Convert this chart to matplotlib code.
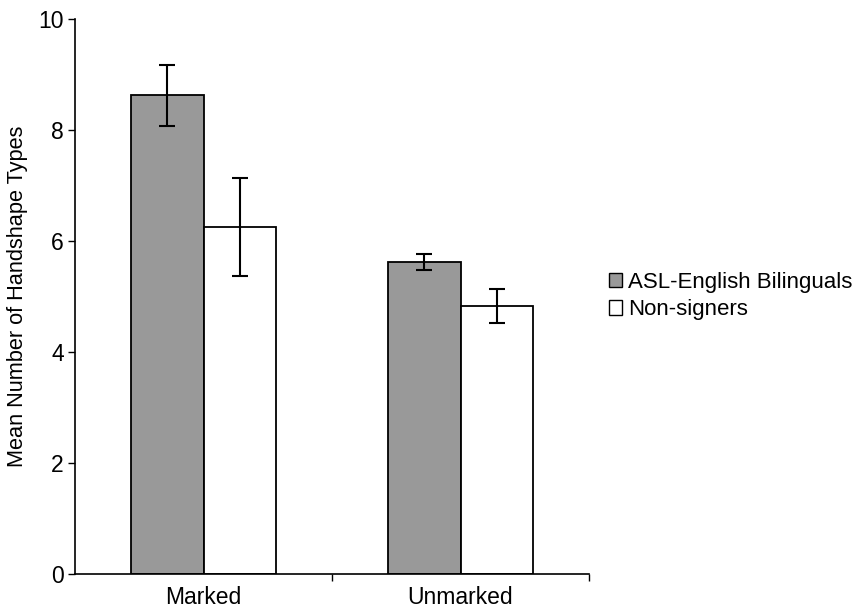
import matplotlib
matplotlib.use("Agg")
import matplotlib.pyplot as plt
from matplotlib.patches import Patch
import numpy as np

categories = ["Marked", "Unmarked"]
series_names = ["ASL-English Bilinguals", "Non-signers"]
asl_means = [8.63, 5.62]
asl_err = [0.55, 0.14]
non_means = [6.25, 4.83]
non_err = [0.88, 0.31]
yticks = [0, 2, 4, 6, 8, 10]

plt.rcParams['font.family'] = ['Liberation Sans', 'DejaVu Sans']

fig = plt.figure(figsize=(8.58, 6.10), dpi=100)
ax = fig.add_axes([75/858, 1-574/610, (589-75)/858, (574-19)/610])

x = np.arange(len(categories))
w = 0.284
ekw = dict(elinewidth=1.5, capthick=1.5, ecolor='black')
ax.bar(x - w/2, asl_means, w, yerr=asl_err, capsize=6, color='#999999',
       edgecolor='black', linewidth=1.3, error_kw=ekw)
ax.bar(x + w/2, non_means, w, yerr=non_err, capsize=6, color='white',
       edgecolor='black', linewidth=1.3, error_kw=ekw)

ax.set_xlim(-0.5, 1.5)
ax.set_ylim(0, 10)
ax.set_yticks(yticks)
ax.set_yticklabels([str(t) for t in yticks], fontsize=16.5)
ax.set_xticks([0.5, 1.5])
ax.set_xticklabels([])
ax.tick_params(axis='x', length=5, width=1, direction='out')
ax.tick_params(axis='y', length=5, width=1, direction='out', pad=3)
for i, c in enumerate(categories):
    ax.text(i, -0.22, c, ha='center', va='top', fontsize=16.5,
            transform=ax.transData)
ax.set_ylabel("Mean Number of Handshape Types", fontsize=15.7)
ax.yaxis.set_label_coords(-47/514, 0.5)
for s in ['top', 'right']:
    ax.spines[s].set_visible(False)
ax.spines['left'].set_linewidth(1.2)
ax.spines['bottom'].set_linewidth(1.2)

handles = [Patch(facecolor='#999999', edgecolor='black', linewidth=1),
           Patch(facecolor='white', edgecolor='black', linewidth=1)]
fig.legend(handles, series_names, loc='center left',
           bbox_to_anchor=(609/858, 1-296/610), frameon=False, fontsize=16,
           handlelength=0.6, handleheight=0.6, handletextpad=0.27,
           labelspacing=0.3, borderpad=0, borderaxespad=0)

fig.savefig("out.png", dpi=100, facecolor='white')
